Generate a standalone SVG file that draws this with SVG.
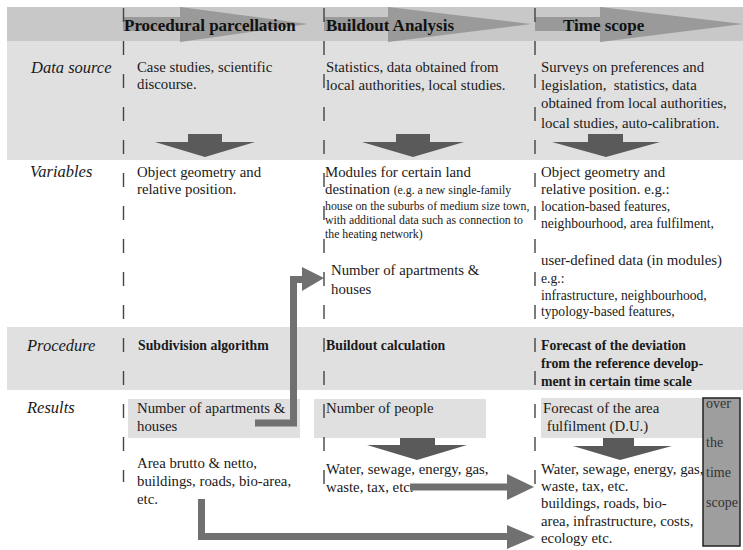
<svg xmlns="http://www.w3.org/2000/svg" width="743" height="550" viewBox="0 0 743 550">
<style>
text{font-family:"Liberation Serif","Times New Roman",serif;fill:#1a1a1a}
.t{font-size:14.8px}
.s{font-size:11.8px}
.m{font-size:13.6px}
.o{font-size:14px;fill:#333}
.b{font-size:13.8px;font-weight:bold}
.h{font-size:17px;font-weight:bold;fill:#111}
.l{font-size:16.5px;font-style:italic}
.band{fill:#e0e0e0}
.hband{fill:#c8c8c8}
.harrow{fill:#9a9a9a}
.down{fill:#5a5a5a}
.div{stroke:#444;stroke-width:1.4;stroke-dasharray:14 19;fill:none}
.conn{stroke:#707070;stroke-width:7;fill:none;stroke-linejoin:miter}
.head{fill:#707070}
</style>
<rect width="743" height="550" fill="#ffffff"/>
<g id="bands">
<rect class="hband" x="7" y="7" width="736" height="34"/>
<rect class="band" x="7" y="41" width="736" height="119"/>
<rect class="band" x="7" y="327" width="736" height="63"/>
<rect class="band" x="128" y="399" width="172" height="39"/>
<rect class="band" x="314" y="399" width="172" height="39"/>
<rect class="band" x="541" y="398" width="162" height="40"/>
</g>
<g id="header">
<polygon class="harrow" points="123,17 180,17 180,7 308,24 180,42 180,31 123,31"/>
<polygon class="harrow" points="324,17 388,17 388,7 531,24 388,42 388,31 324,31"/>
<polygon class="harrow" points="535,17 600,17 600,7 743,24 600,42 600,31 535,31"/>
<text class="h" x="124" y="31">Procedural parcellation</text>
<text class="h" x="326" y="31">Buildout Analysis</text>
<text class="h" x="563" y="31">Time scope</text>
</g>
<g id="dividers">
<line class="div" x1="123.5" y1="8" x2="123.5" y2="482"/>
<line class="div" x1="324" y1="8" x2="324" y2="486"/>
<line class="div" x1="535" y1="8" x2="535" y2="490"/>
</g>
<g id="row-labels">
<text class="l" x="31" y="73">Data source</text>
<text class="l" x="30" y="177">Variables</text>
<text class="l" x="27" y="351">Procedure</text>
<text class="l" x="27" y="413">Results</text>
</g>
<g id="data-pp">
<text class="t" x="137" y="72">Case studies, scientific</text>
<text class="t" x="137" y="89">discourse.</text>
</g>
<g id="data-ba">
<text class="t" x="326" y="72">Statistics, data obtained from</text>
<text class="t" x="326" y="90">local authorities, local studies.</text>
</g>
<g id="data-ts">
<text class="t" x="541" y="72">Surveys on preferences and</text>
<text class="t" x="541" y="90" xml:space="preserve">legislation,  statistics, data</text>
<text class="t" x="541" y="108">obtained from local authorities,</text>
<text class="t" x="541" y="128">local studies, auto-calibration.</text>
</g>
<g id="down-arrows">
<polygon class="down" points="188,134 222,134 222,142 255,142 205,157 155,142 188,142"/>
<polygon class="down" points="396,134 430,134 430,142 464,142 413,157 362,142 396,142"/>
<polygon class="down" points="588,134 623,134 623,142 660,142 606,157 552,142 588,142"/>
<polygon class="down" points="400,438 435,438 435,445 467,445 417,460 367,445 400,445"/>
<polygon class="down" points="603,438 634,438 634,446 672,446 620,460 573,446 603,446"/>
</g>
<g id="var-pp">
<text class="t" x="137" y="177">Object geometry and</text>
<text class="t" x="137" y="194">relative position.</text>
</g>
<g id="var-ba">
<text class="t" x="325" y="177">Modules for certain land</text>
<text class="t" x="325" y="194">destination <tspan class="s">(e.g. a new single-family</tspan></text>
<text class="s" x="325" y="210">house on the suburbs of medium size town,</text>
<text class="s" x="325" y="224">with additional data such as connection to</text>
<text class="s" x="325" y="238">the heating network)</text>
</g>
<g id="var-ba-number">
<text class="t" x="331" y="275">Number of apartments &amp;</text>
<text class="t" x="331" y="294">houses</text>
</g>
<g id="var-ts">
<text class="t" x="541" y="177">Object geometry and</text>
<text class="t" x="541" y="194">relative position. e.g.:</text>
<text class="m" x="541" y="211">location-based features,</text>
<text class="m" x="541" y="228">neighbourhood, area fulfilment,</text>
<text class="t" x="541" y="265">user-defined data (in modules)</text>
<text class="m" x="541" y="283">e.g.:</text>
<text class="m" x="541" y="300">infrastructure, neighbourhood,</text>
<text class="m" x="541" y="316">typology-based features,</text>
</g>
<g id="proc-pp">
<text class="b" x="138" y="350">Subdivision algorithm</text>
</g>
<g id="proc-ba">
<text class="b" x="326" y="350">Buildout calculation</text>
</g>
<g id="proc-ts">
<text class="b" x="541" y="350">Forecast of the deviation</text>
<text class="b" x="541" y="368">from the reference develop-</text>
<text class="b" x="541" y="386">ment in certain time scale</text>
</g>
<g id="res-pp">
<text class="t" x="137" y="413">Number of apartments &amp;</text>
<text class="t" x="137" y="431">houses</text>
<text class="t" x="137" y="468">Area brutto &amp; netto,</text>
<text class="t" x="137" y="486">buildings, roads, bio-area,</text>
<text class="t" x="137" y="504">etc.</text>
</g>
<g id="res-ba">
<text class="t" x="326" y="413">Number of people</text>
<text class="t" x="326" y="474">Water, sewage, energy, gas,</text>
<text class="t" x="326" y="492">waste, tax, etc.</text>
</g>
<g id="res-ts">
<text class="t" x="543" y="413">Forecast of the area</text>
<text class="t" x="543" y="431" xml:space="preserve"> fulfilment (D.U.)</text>
<text class="t" x="541" y="474">Water, sewage, energy, gas,</text>
<text class="t" x="541" y="491">waste, tax, etc.</text>
<text class="t" x="541" y="508">buildings, roads, bio-</text>
<text class="t" x="541" y="526">area, infrastructure, costs,</text>
<text class="t" x="541" y="543">ecology etc.</text>
</g>
<g id="over-time-scope">
<rect x="703" y="398" width="37" height="148" fill="#9e9e9e" stroke="#222" stroke-width="1.5"/>
<text class="o" x="706" y="408">over</text>
<text class="o" x="706" y="447">the</text>
<text class="o" x="706" y="477">time</text>
<text class="o" x="706" y="507">scope</text>
</g>
<g id="connectors">
<polyline class="conn" points="255,423 293.5,423 293.5,279.5 304,279.5"/>
<polygon class="head" points="302,267 324,278 302,291"/>
<polyline class="conn" points="410,487 509,487"/>
<polygon class="head" points="507,474 534,487 507,500"/>
<polyline class="conn" points="201.5,499 201.5,536.5 509,536.5"/>
<polygon class="head" points="507,525 535,537 507,549"/>
</g>
</svg>
